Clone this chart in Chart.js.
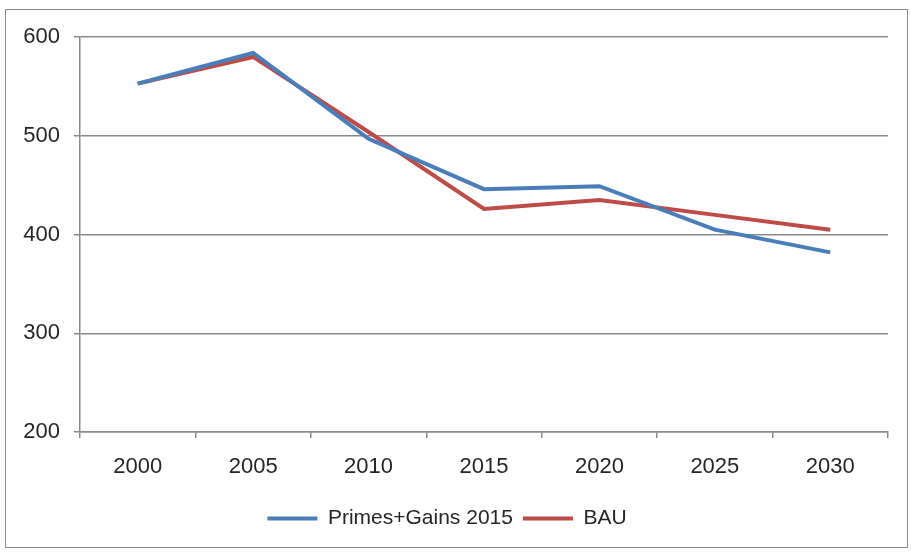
<!DOCTYPE html>
<html>
<head>
<meta charset="utf-8">
<script src="https://cdn.jsdelivr.net/npm/chart.js@4"></script>
<style>
    body { margin: 0; background: #fff; }
    #wrap {
        position: absolute; left: 5px; top: 9px;
        width: 901px; height: 537px;
        border: 1px solid #8c8c8c;
    }
</style>
</head>
<body>
<div id="wrap"><canvas id="chart" width="901" height="537"></canvas></div>
<script>
// Chart data
const years = ['2000', '2005', '2010', '2015', '2020', '2025', '2030'];
const primesGains = [553, 584, 497, 446, 449, 405, 382];
const bau = [553, 580, 504, 426, 435, 420, 405];
const yTicks = [200, 300, 400, 500, 600];

const gridColor = '#8a8a8a';
const textColor = '#262626';

new Chart(document.getElementById('chart'), {
    type: 'line',
    data: {
        labels: years,
        datasets: [{
            label: 'Primes+Gains 2015',
            data: primesGains,
            borderColor: '#4a7ebb',
            backgroundColor: '#4a7ebb',
            borderWidth: 4,
            pointRadius: 0,
            tension: 0
        }, {
            label: 'BAU',
            data: bau,
            borderColor: '#be4b48',
            backgroundColor: '#be4b48',
            borderWidth: 4,
            pointRadius: 0,
            tension: 0
        }]
    },
    options: {
        responsive: false,
        animation: false,
        layout: { padding: { left: 0, right: 19, top: 27, bottom: 8 } },
        plugins: {
            tooltip: { enabled: false },
            legend: {
                position: 'bottom',
                labels: {
                    usePointStyle: true,
                    pointStyle: 'line',
                    pointStyleWidth: 50,
                    boxHeight: 4,
                    padding: 10,
                    color: textColor,
                    font: { family: 'Liberation Sans', size: 21 }
                }
            }
        },
        scales: {
            x: {
                offset: true,
                grid: {
                    offset: true,
                    drawOnChartArea: false,
                    drawTicks: true,
                    tickLength: 6,
                    color: gridColor,
                    lineWidth: 1.5
                },
                border: { display: true, color: gridColor, width: 1.5 },
                ticks: {
                    padding: 16,
                    color: textColor,
                    font: { family: 'Liberation Sans', size: 22 }
                },
                afterFit: function(scale) { scale.height = 66; }
            },
            y: {
                min: 200,
                max: 600,
                afterBuildTicks: function(scale) {
                    scale.ticks = yTicks.map(v => ({ value: v }));
                },
                grid: {
                    color: gridColor,
                    lineWidth: 1.5,
                    drawTicks: true,
                    tickLength: 6
                },
                border: { display: true, color: gridColor, width: 1.5 },
                ticks: {
                    padding: 14,
                    color: textColor,
                    font: { family: 'Liberation Sans', size: 22 }
                },
                afterFit: function(scale) { scale.width = 74; }
            }
        }
    }
});
</script>
</body>
</html>
